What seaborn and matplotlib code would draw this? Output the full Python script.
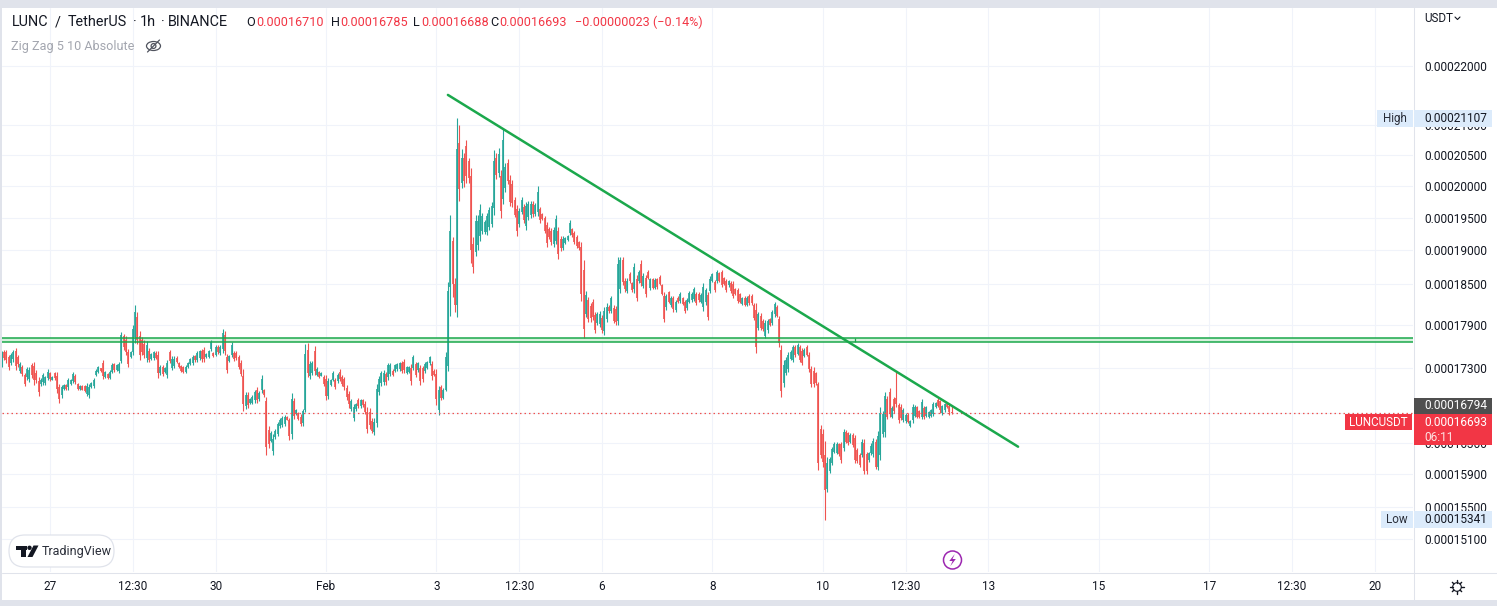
import matplotlib
matplotlib.use("Agg")
import numpy as np
import pandas as pd
import matplotlib.pyplot as plt
from matplotlib.patches import Rectangle, Circle, Polygon, FancyBboxPatch, Ellipse
from matplotlib.lines import Line2D
from matplotlib.transforms import IdentityTransform
from matplotlib.ticker import NullLocator
import seaborn as sns

# ---------------- data (prices in units of 1e-8 USDT, hourly candles) ----------------
START_HOUR = -21  # hours relative to Jan 27 00:00

open_ = [
    17370,17530,17525,17450,17380,17425,17540,17455,17270,17315,
    17205,17175,17150,17340,17330,17240,17130,17085,17110,17100,
    17170,17230,17145,17230,17195,17040,16935,17015,17070,17040,
    17090,17130,17195,17080,17020,17055,17055,16955,16940,17045,
    17055,17210,17255,17300,17370,17180,17220,17170,17255,17360,
    17275,17260,17400,17750,17700,17530,17455,17520,17740,18020,
    17750,17690,17640,17440,17545,17430,17440,17515,17480,17235,
    17320,17245,17210,17525,17310,17330,17445,17375,17330,17315,
    17255,17315,17365,17370,17470,17420,17440,17535,17560,17455,
    17460,17570,17515,17490,17600,17510,17570,17770,17455,17400,
    17480,17515,17515,17455,17370,17200,16785,16940,16835,16830,
    16865,17005,16880,17000,17000,16850,16470,16335,16200,16380,
    16420,16525,16540,16550,16650,16600,16420,16850,16680,16700,
    16650,16560,16740,17560,17190,17240,17540,17215,17250,17200,
    17185,17150,16920,17075,17145,17140,17120,17250,17180,17150,
    17035,16950,16750,16630,16745,16875,16790,16865,16820,16710,
    16710,16590,16440,16560,16980,17100,17110,17220,17180,17220,
    17270,17270,17285,17290,17375,17390,17240,17255,17310,17310,
    17360,17280,17300,17300,17270,17305,17370,17360,17270,17220,
    16730,17040,16900,17010,
    17330,18450,19150,18500,18200,20700,20050,20450,20650,20400,
    20150,19100,18980,19080,19220,19290,19280,19280,19360,19400,
    19650,20450,20200,20150,19800,19970,20370,20100,20030,19780,
    19630,19400,19590,19660,19370,19510,19540,19720,19560,19590,
    19630,19560,19490,19390,19330,19300,19100,19150,19300,19180,
    19040,19110,19160,19260,19320,19260,19200,19120,19050,18700,
    18070,18270,18180,18230,18050,17940,17920,18010,17820,17990,
    18170,18110,18150,18140,17960,18420,18850,18550,18400,18650,
    18510,18420,18580,18540,18800,18470,18590,18680,18440,18570,
    18440,18570,18610,18480,18330,18160,18380,18200,18300,18120,
    18300,18250,18295,18240,18150,18240,18260,18280,18350,18360,
    18240,18160,18230,18340,18400,18550,18530,18540,18660,18670,
    18590,18540,18480,18520,18500,18430,18410,18350,18210,18300,
    18200,18330,18320,18190,18120,17870,18040,17960,17750,17830,
    17990,17930,18060,18170,17990,
    17560,17100,17240,17290,17430,17420,17600,17500,17590,17540,
    17475,17600,17490,17290,17270,17230,17090,16480,16420,16150,
    15720,15950,16050,16190,16180,16290,16290,16240,16450,16430,
    16320,16410,16370,16210,16150,16150,16300,16160,16080,16170,
    16160,16310,16000,16150,16420,16450,16880,16980,16650,16880,
    16900,16800,16780,16610,16585,16670,16520,16600,16660,16770,
    16720,16650,16760,16660,16640,16660,16680,16780,16870,16850,
    16690,16730,16820,16790,16710,
]

high = [
    17546,17560,17560,17489,17512,17550,17588,17489,17394,17347,
    17241,17323,17323,17380,17394,17276,17179,17166,17241,17197,
    17285,17254,17188,17250,17250,17086,17077,17090,17086,17166,
    17152,17254,17223,17099,17068,17068,17077,17099,17090,17108,
    17166,17290,17333,17309,17418,17263,17232,17276,17371,17380,
    17361,17394,17805,17782,17749,17569,17536,17900,18198,18099,
    17815,17735,17688,17678,17579,17512,17546,17536,17546,17347,
    17347,17323,17418,17560,17465,17465,17465,17394,17347,17333,
    17347,17394,17441,17484,17489,17536,17560,17569,17598,17512,
    17560,17688,17527,17621,17621,17621,17843,17820,17498,17489,
    17664,17536,17536,17489,17408,17290,16984,16976,16900,16931,
    17011,17046,16989,17205,17020,16913,16525,16458,16414,16480,
    16578,16635,16657,16666,16657,16626,16958,16891,16746,16710,
    16679,16746,17631,17645,17404,17404,17607,17314,17267,17254,
    17210,17210,17166,17157,17263,17166,17232,17285,17210,17179,
    17077,16989,16878,16812,16834,16900,16887,16887,16856,16781,
    16768,16626,16626,17090,17197,17263,17276,17254,17380,17371,
    17285,17361,17380,17394,17404,17427,17338,17333,17361,17489,
    17394,17394,17347,17338,17394,17404,17475,17404,17285,17290,
    17055,17077,17033,17527,
    18534,19543,19209,18583,21104,20992,20590,20524,20743,20443,
    20282,19209,19543,19543,19715,19569,19466,19579,19673,19751,
    20579,20524,20606,20255,20920,20373,20432,20174,20094,19830,
    19699,19657,19830,19709,19751,19762,19762,19762,19736,19999,
    19673,19579,19527,19440,19362,19337,19362,19543,19362,19219,
    19224,19209,19234,19466,19337,19296,19234,19148,19127,18856,
    18401,18314,18228,18276,18096,18096,18110,18049,18168,18218,
    18194,18324,18194,18179,18906,18906,18906,18583,18583,18682,
    18534,18806,18632,18706,18856,18667,18632,18706,18593,18593,
    18583,18593,18632,18499,18377,18353,18401,18328,18328,18266,
    18324,18387,18314,18266,18290,18396,18387,18460,18377,18387,
    18362,18509,18445,18387,18618,18657,18559,18706,18682,18706,
    18608,18569,18559,18544,18544,18445,18445,18372,18314,18324,
    18328,18353,18353,18218,18218,18096,18072,17987,17977,17987,
    18011,18120,18242,18194,18035,
    17624,17414,17450,17531,17554,17624,17624,17648,17624,17578,
    17578,17624,17531,17332,17314,17255,17117,16539,16482,16333,
    16127,16127,16256,16312,16312,16307,16320,16482,16473,16451,
    16429,16429,16407,16234,16170,16350,16350,16191,16191,16298,
    16363,16350,16460,16781,16724,16982,16923,17028,16790,16914,
    17255,16834,16812,16759,16693,16693,16603,16816,16803,16790,
    16737,16883,16790,16790,16728,16746,16847,16847,16892,16869,
    16803,16834,16834,16825,16785,
]

low = [
    17323,17418,17380,17276,17347,17394,17276,17323,17241,17188,
    17055,17143,17108,17166,17077,17099,16922,17064,17077,17077,
    17143,17130,17135,17143,16967,16834,16900,16998,16998,17011,
    17077,17099,17086,16998,17011,16998,16976,16922,16900,17033,
    17033,17197,17241,17254,17152,17166,17152,17152,17232,17254,
    17258,17232,17371,17560,17489,17323,17441,17489,17654,17631,
    17418,17489,17441,17394,17390,17418,17418,17427,17166,17210,
    17197,17232,17166,17371,17276,17300,17371,17300,17254,17232,
    17232,17300,17347,17347,17394,17394,17418,17394,17394,17441,
    17441,17546,17456,17465,17503,17489,17512,17489,17241,17385,
    17451,17404,17418,17290,17188,16724,16746,16768,16821,16812,
    16834,16834,16856,16967,16913,16149,16237,16313,16149,16361,
    16392,16503,16516,16525,16600,16348,16357,16622,16666,16604,
    16525,16525,16710,17175,17152,17210,17210,17197,17166,17188,
    17055,16865,16878,17055,17121,17020,17099,17121,17064,17011,
    16865,16768,16724,16591,16724,16768,16768,16781,16679,16427,
    16480,16427,16405,16512,16931,17064,17077,17077,17143,17188,
    17197,17254,17263,17263,17241,17241,17219,17241,17068,17276,
    17175,17254,17068,17108,17241,17285,17347,17143,17188,16799,
    16670,16865,16878,16989,
    17266,18034,18314,18096,18025,19767,19961,19988,20041,20052,
    18816,18657,18921,19006,19148,19245,19250,19235,19311,19352,
    19543,20105,20137,19502,19709,19909,20025,19683,19673,19507,
    19224,19362,19553,19414,19311,19466,19502,19517,19527,19527,
    19424,19466,19260,19056,19168,19081,19056,19092,18871,18991,
    19006,19097,19148,19234,19209,19092,19031,19006,18255,17718,
    18025,17944,17953,17977,17788,17906,17882,17788,17765,17953,
    18082,18082,17930,17906,17906,18362,18485,18387,18362,18509,
    18387,18372,18255,18509,18475,18436,18314,18569,18411,18421,
    18421,18426,18485,18338,17944,18120,18218,18168,18096,18096,
    18218,18228,18194,18082,18120,18218,18242,18252,18194,18242,
    18218,18110,18194,17977,18362,18534,18387,18509,18534,18460,
    18485,18387,18460,18362,18290,18338,18218,18218,18194,18179,
    18179,18194,18194,17977,17508,17835,17835,17826,17718,17798,
    17892,17901,18025,18016,17601,
    16914,17050,17209,17255,17414,17391,17461,17484,17391,17346,
    17461,17470,17255,17050,17050,17073,15957,16106,16000,15341,
    15685,15924,16021,16170,16161,16135,16042,16204,16298,16277,
    16307,16256,16042,16042,16000,16127,15903,15903,16063,16148,
    16127,15966,15957,16084,16377,16385,16612,16639,16625,16693,
    16781,16568,16603,16581,16568,16559,16508,16568,16639,16625,
    16625,16612,16612,16648,16625,16648,16657,16768,16781,16702,
    16671,16715,16759,16671,16688,
]

close = [
    17500,17445,17415,17320,17480,17520,17330,17355,17365,17220,
    17090,17290,17280,17210,17140,17135,16975,17145,17210,17175,
    17255,17155,17178,17165,17020,16880,17040,17070,17015,17135,
    17140,17225,17110,17015,17058,17010,16995,17065,17050,17095,
    17140,17270,17315,17262,17200,17245,17165,17255,17345,17275,
    17345,17365,17760,17600,17530,17365,17520,17850,18090,17700,
    17480,17530,17485,17630,17420,17495,17520,17445,17230,17320,
    17225,17305,17370,17405,17430,17435,17390,17320,17270,17250,
    17325,17375,17425,17460,17410,17510,17535,17425,17430,17500,
    17540,17665,17470,17595,17520,17600,17790,17540,17280,17470,
    17630,17425,17440,17325,17225,16810,16940,16800,16885,16910,
    16980,16870,16965,17160,16935,16250,16290,16430,16360,16455,
    16545,16610,16630,16640,16610,16400,16880,16660,16730,16620,
    16550,16720,17500,17240,17360,17370,17260,17290,17185,17240,
    17085,16920,17120,17140,17240,17050,17210,17150,17090,17040,
    16905,16810,16850,16780,16810,16795,16865,16800,16715,16480,
    16540,16460,16580,17020,17150,17230,17240,17110,17340,17340,
    17215,17340,17360,17370,17270,17275,17315,17315,17120,17450,
    17215,17370,17120,17150,17365,17385,17455,17190,17205,16880,
    17000,16900,17010,17450,
    18400,19300,18500,18200,20600,19950,20450,20080,20150,20120,
    19000,18750,19450,19450,19620,19520,19430,19520,19620,19690,
    20400,20180,20520,19600,20750,20300,20080,19750,19730,19550,
    19290,19610,19780,19460,19680,19710,19720,19560,19700,19900,
    19460,19485,19300,19110,19200,19120,19310,19480,18940,19030,
    19180,19190,19220,19420,19230,19120,19060,19030,18350,17850,
    18340,17990,18000,18020,17830,18070,18070,17830,18100,18170,
    18100,18290,17970,17950,18800,18850,18530,18420,18550,18540,
    18410,18750,18300,18680,18520,18620,18360,18590,18570,18440,
    18560,18450,18500,18360,17990,18320,18240,18300,18130,18240,
    18230,18360,18210,18110,18260,18370,18360,18430,18220,18260,
    18340,18460,18410,18020,18580,18640,18410,18680,18550,18490,
    18500,18410,18540,18390,18320,18350,18250,18240,18290,18200,
    18300,18220,18215,18010,17600,18060,17870,17850,17940,17960,
    17910,18090,18210,18040,17650,
    16990,17350,17410,17480,17530,17590,17480,17620,17420,17380,
    17560,17490,17290,17090,17090,17095,16050,16150,16060,15700,
    16050,16100,16220,16290,16290,16160,16080,16440,16320,16300,
    16410,16280,16080,16070,16020,16320,15950,15940,16170,16270,
    16330,16000,16400,16700,16680,16920,16650,16680,16760,16720,
    16810,16600,16630,16730,16670,16580,16590,16780,16780,16650,
    16640,16840,16640,16770,16710,16730,16820,16835,16795,16730,
    16785,16810,16770,16710,16693,
]

tick_hours = [0, 36, 72, 120, 168, 204, 240, 288, 336, 372, 408, 456, 504, 540, 576]
tick_labels = ["27", "12:30", "30", "Feb", "3", "12:30", "6", "8", "10",
               "12:30", "13", "15", "17", "12:30", "20"]
price_ticks = [22000, 21000, 20500, 20000, 19500, 19000, 18500, 17900,
               17300, 16700, 16300, 15900, 15500, 15100]

zone_low, zone_high = 17670, 17726
zone_mark_hour = 350
trend_hours = [173.0, 420.9]
trend_prices = [21500, 16255]

last_price = 16693
marker_price = 16794
high_price = 21107
low_price = 15341
countdown = "06:11"

title_parts = ["LUNC", "/", "TetherUS", "·", "1h", "·", "BINANCE"]
ohlc_letters = ["O", "H", "L", "C"]
ohlc_values = ["0.00016710", "0.00016785", "0.00016688", "0.00016693"]
change_text = "−0.00000023 (−0.14%)"
indicator_text = "Zig Zag 5 10 Absolute"

# ---------------- style ----------------
sns.set_theme(style="white")
plt.rcParams["font.family"] = ["Roboto", "DejaVu Sans"]

UP = "#26a69a"
DOWN = "#ef5350"
GREEN = "#1ba84c"
ZONE_FILL = "#d3f0da"
GRID = "#f0f3fa"
BORDER = "#e0e3eb"
TEXT = "#131722"
LABEL_RED = "#f23645"

W, H = 1497, 606
fig = plt.figure(figsize=(W / 100, H / 100), dpi=100, facecolor=BORDER)
I = IdentityTransform()


def D(y):
    return H - y


fig.add_artist(Rectangle((2, D(600)), W - 2, 592, transform=I,
                         fc="white", ec="none", zorder=-5))

ax = fig.add_axes([2 / W, (H - 572) / H, 1411 / W, 564 / H])
ax.set_facecolor("white")

# ---------------- candles ----------------
o = np.array(open_, dtype=float)
hi = np.array(high, dtype=float)
lo = np.array(low, dtype=float)
c = np.array(close, dtype=float)
hours = START_HOUR + np.arange(len(c))
cols = np.where(c >= o, UP, DOWN)

ax.vlines(hours, np.minimum(lo, np.minimum(o, c)), np.maximum(hi, np.maximum(o, c)),
          colors=cols, linewidth=0.8, zorder=2)
ax.vlines(hours, np.minimum(o, c), np.maximum(o, c), colors=cols, linewidth=1.2, zorder=2)

# zone
ax.axhspan(zone_low, zone_high, fc=ZONE_FILL, ec="none", zorder=1.5, alpha=0.9)
ax.axhline(zone_low, color=GREEN, lw=1.1, zorder=3)
ax.axhline(zone_high, color=GREEN, lw=1.1, zorder=3)
ax.vlines([zone_mark_hour], zone_low, zone_high, colors=GREEN, lw=0.9, zorder=3)

# trend line (seaborn)
trend = pd.DataFrame({"hour": trend_hours, "price": trend_prices})
sns.lineplot(data=trend, x="hour", y="price", ax=ax, color=GREEN,
             linewidth=1.8, zorder=4, legend=False)

# current price dotted line
ax.axhline(last_price, color=DOWN, lw=0.9, ls=(0, (1.2, 2.4)), zorder=3)

# ---------------- axes ----------------
ax.set_yscale("log")
ax.set_xlim(-20.87, 592.6)
ax.set_ylim(14714, 23038)
ax.set_yticks(price_ticks)
ax.set_yticklabels([f"0.{v:08d}" for v in price_ticks])
ax.yaxis.set_minor_locator(NullLocator())
ax.yaxis.tick_right()
ax.set_xticks(tick_hours)
ax.set_xticklabels(tick_labels)
ax.xaxis.set_minor_locator(NullLocator())
ax.tick_params(axis="y", length=0, pad=7.9, labelsize=8.6, labelcolor=TEXT)
ax.tick_params(axis="x", length=0, pad=5.6, labelsize=8.5, labelcolor=TEXT)
ax.set_xlabel("")
ax.set_ylabel("")
ax.grid(True, color=GRID, lw=0.75)
ax.set_axisbelow(True)
for s in ax.spines.values():
    s.set_visible(False)

# separators
fig.add_artist(Line2D([1413.5, 1413.5], [D(8), D(600)], transform=I, color=BORDER, lw=0.75, zorder=4))
fig.add_artist(Line2D([2, W], [D(572.5), D(572.5)], transform=I, color=BORDER, lw=0.75, zorder=4))


# ---------------- overlays ----------------
def ydisp(price):
    return ax.transData.transform((0, price))[1]


def box(x0, x1, yc, h, color, z=6):
    fig.add_artist(Rectangle((x0, yc - h / 2), x1 - x0, h, transform=I,
                             fc=color, ec="none", zorder=z))


def label(x, y, s, color=TEXT, ha="left", size=8.6, z=7, **kw):
    fig.text(x, y, s, transform=I, ha=ha, va="center", color=color,
             fontsize=size, zorder=z, **kw)


# legend header
title_x = [11.5, 55, 68, 135, 140, 163, 168]
title_ha = ["left", "left", "left", "center", "left", "center", "left"]
for xt, part, ha in zip(title_x, title_parts, title_ha):
    label(xt, D(22.5), part, size=10.4, ha=ha)
xs_letter = [246, 331, 413, 490]
xs_value = [256, 340, 421, 499]
for xl, xv, letter, val in zip(xs_letter, xs_value, ohlc_letters, ohlc_values):
    label(xl, D(22), letter, size=9.1)
    label(xv, D(22), val, color=LABEL_RED, size=9.1)
label(575, D(22), change_text, color=LABEL_RED, size=9.1)
label(11, D(46.3), indicator_text, color="#a3a6af", size=9.1)

# eye-slash icon
ICON = "#50535e"
fig.add_artist(Ellipse((153.5, D(46)), 14, 9, transform=I, fc="none", ec=ICON, lw=0.9, zorder=7))
fig.add_artist(Circle((153.5, D(46)), 2.4, transform=I, fc="none", ec=ICON, lw=0.9, zorder=7))
fig.add_artist(Line2D([147.5, 159.5], [D(52), D(40)], transform=I, color=ICON, lw=0.9, zorder=7))

# USDT label
label(1424, D(18), "USDT", size=8.4)
fig.add_artist(Line2D([1455, 1457.5, 1460], [D(17), D(19.5), D(17)], transform=I,
                      color=TEXT, lw=0.8, zorder=7))

# High / Low labels
HL_BG = "#dcebfb"
yh = ydisp(high_price)
box(1377, 1413, yh, 17, HL_BG)
label(1395, yh, "High", ha="center", size=8.4, color="#2a2e39")
box(1414, 1492, yh, 17, HL_BG)
label(1424, yh, f"0.{high_price:08d}", size=8.6)

yl = ydisp(low_price)
box(1381, 1413, yl, 17, HL_BG)
label(1397, yl, "Low", ha="center", size=8.4, color="#2a2e39")
box(1414, 1492, yl, 17, HL_BG)
label(1424, yl, f"0.{low_price:08d}", size=8.6)

# marker price (dark)
ym = ydisp(marker_price)
box(1414, 1492, ym, 16, "#4f4f4f")
label(1424, ym, f"0.{marker_price:08d}", color="white", size=8.6)

# last price (red, two lines)
red_top = ym - 8
box(1414, 1492, red_top - 15.5, 31, LABEL_RED)
label(1424, red_top - 8.5, f"0.{last_price:08d}", color="white", size=8.6)
label(1424, red_top - 23.5, countdown, color="#fde2e2", size=8.6)
box(1345, 1412, red_top - 8.5, 16, LABEL_RED)
label(1378.5, red_top - 8.5, "LUNCUSDT", color="white", ha="center", size=8.4)

# TradingView logo pill
fig.add_artist(FancyBboxPatch((9, D(567)), 105, 32, boxstyle="round,pad=0,rounding_size=16",
                              transform=I, fc="white", ec=BORDER, lw=0.9, zorder=6))
logo = [
    [(16, 545.5), (26.5, 545.5), (26.5, 549.5), (16, 549.5)],
    [(21, 549.5), (25.5, 549.5), (25.5, 557), (21, 557)],
    [(33.5, 545.5), (38.5, 545.5), (32.5, 557), (27.5, 557)],
]
for poly in logo:
    fig.add_artist(Polygon([(x, D(y)) for x, y in poly], closed=True, transform=I,
                           fc=TEXT, ec="none", zorder=7))
fig.add_artist(Circle((29.5, D(547.8)), 2.2, transform=I, fc=TEXT, ec="none", zorder=7))
label(42, D(551), "TradingView", size=9.0, color="#2a2e39")

# lightning icon
PURPLE = "#9c27b0"
fig.add_artist(Circle((952.5, D(560)), 9, transform=I, fc="white", ec=PURPLE, lw=1.1, zorder=7))
bolt = [(954.8, 554), (949.3, 561), (952.6, 561), (950.3, 566.2), (955.8, 559), (952.5, 559)]
fig.add_artist(Polygon([(x, D(y)) for x, y in bolt], closed=True, transform=I,
                       fc=PURPLE, ec="none", zorder=8))

# gear icon
gx, gy = 1457, D(587)
fig.add_artist(Circle((gx, gy), 4.3, transform=I, fc="none", ec=TEXT, lw=0.8, zorder=7))
for a in np.deg2rad(np.arange(0, 360, 45)):
    fig.add_artist(Line2D([gx + 4.3 * np.cos(a), gx + 6.6 * np.cos(a)],
                          [gy + 4.3 * np.sin(a), gy + 6.6 * np.sin(a)],
                          transform=I, color=TEXT, lw=1.0, zorder=7))

fig.savefig("out.png", dpi=100, facecolor=fig.get_facecolor())
